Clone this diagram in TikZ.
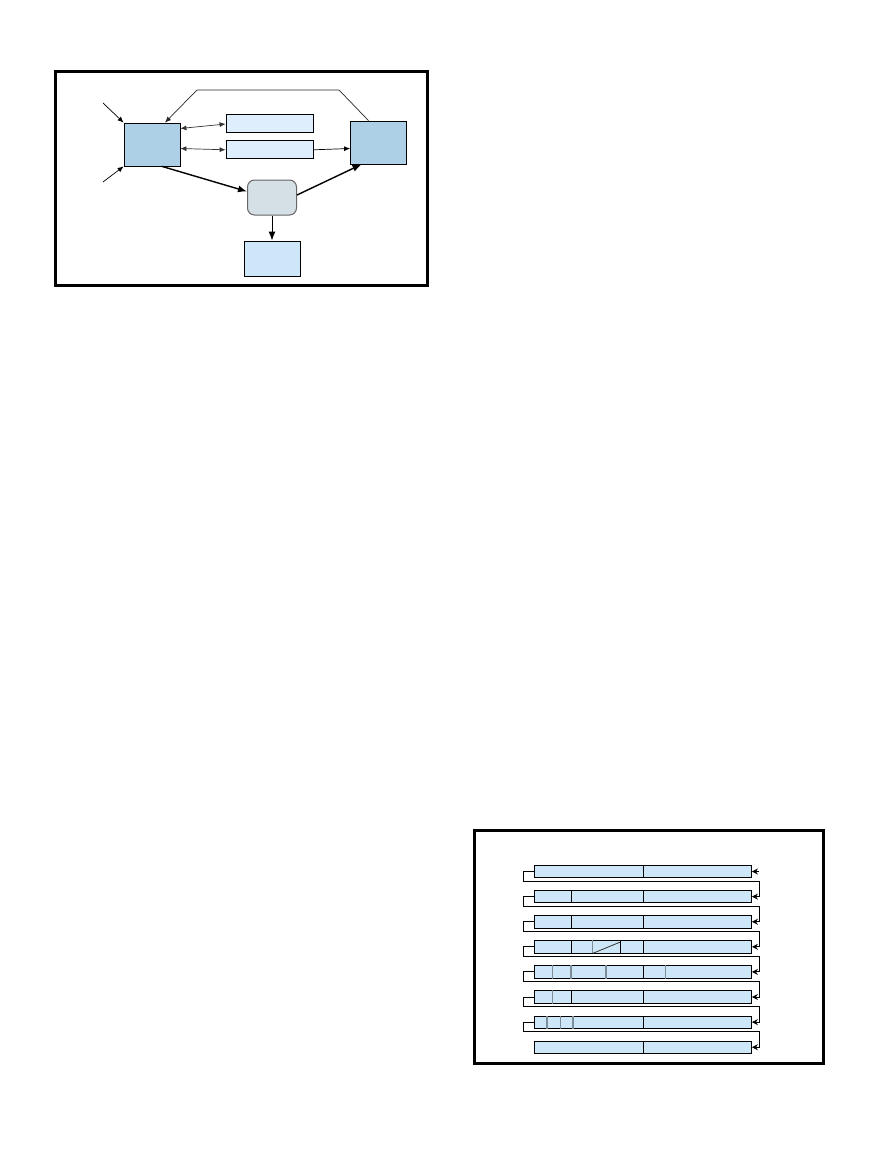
\documentclass[tikz,border=0pt]{standalone}
\usepackage{xcolor}
\usepackage{tikz}
\usetikzlibrary{arrows.meta, positioning}
\definecolor{procblue}{RGB}{174, 208, 230}
\definecolor{regblue}{RGB}{222, 238, 252}
\definecolor{cellblue}{RGB}{205, 231, 248}
\definecolor{bufgray}{RGB}{213, 223, 230}
\definecolor{cutgray}{RGB}{125, 140, 150}
\newcommand{\rowcut}[3][cut]{\draw[#1] (#3,0 |- r#2.north) -- (#3,0 |- r#2.south);}

\begin{document}
\begin{tikzpicture}[
    x=1pt, y=-1pt,
    proc/.style={rectangle, draw=black, fill=procblue, line width=0.8pt, minimum width=56pt, minimum height=43pt, inner sep=0pt},
    reg/.style={rectangle, draw=black, fill=regblue, line width=0.8pt, minimum width=87pt, minimum height=18pt, inner sep=0pt},
    buf/.style={rectangle, rounded corners=7pt, draw=black!60, fill=bufgray, line width=1pt, minimum width=49pt, minimum height=35pt, inner sep=0pt},
    store/.style={rectangle, draw=black, fill=cellblue, line width=0.8pt, minimum width=56pt, minimum height=35.5pt, inner sep=0pt},
    bar/.style={rectangle, draw=black, fill=cellblue, line width=0.8pt, minimum width=217pt, minimum height=12.4pt, inner sep=0pt},
    frame/.style={line width=3pt},
    arrow/.style={-{Latex[length=6pt,width=5pt]}, line width=0.7pt},
    both/.style={{Latex[length=6pt,width=5pt]}-{Latex[length=6pt,width=5pt]}, line width=0.7pt, black!80},
    heavy/.style={-{Latex[length=9pt,width=7pt]}, line width=1.4pt},
    link/.style={-{Stealth[length=6pt,width=6pt]}, line width=0.9pt},
    cut/.style={line width=1pt},
    graycut/.style={line width=1.6pt, cutgray}
]
    \useasboundingbox (0,0) rectangle (878,1175);

    % top diagram
    \draw[frame] (55,71.5) rectangle (427,285);
    \node (src) [proc] at (152,144.5) {};
    \node (dst) [proc] at (378.5,142.5) {};
    \node (reg1) [reg] at (269.5,123) {};
    \node (reg2) [reg, below=8pt of reg1] {};
    \node (buf) [buf] at (272,197.5) {};
    \node (store) [store, below=25pt of buf] {};
    \coordinate (inA) at (103,103);
    \coordinate (inB) at (103,182);
    \coordinate (upR) at (339,90);
    \coordinate (upL) at (197,90);

    \draw [arrow] (inA) -- (src.north west);
    \draw [arrow] (inB) -- (src.south west);
    \draw [arrow, black!85] ([xshift=-10pt]dst.north) -- (upR) -- (upL) -- ([xshift=13pt]src.north);
    \draw [both] ([yshift=16pt]src.east) -- ([yshift=-1pt]reg1.west);
    \draw [both] ([yshift=-4pt]src.east) -- (reg2.west);
    \draw [arrow] (reg2.east) -- ([yshift=-6pt]dst.west);
    \draw [heavy] ([xshift=10pt]src.south) -- ([yshift=6pt]buf.west);
    \draw [heavy] ([yshift=2.5pt]buf.east) -- ([xshift=-17pt]dst.south);
    \draw [heavy, line width=1pt] (buf.south) -- (store.north);

    % bottom diagram
    \draw[frame] (474,830) rectangle (823,1063.3);
    \foreach \i in {1,...,8}
        \node (r\i) [bar] at (643,{871.5+25.1*(\i-1)}) {};
    \foreach \i in {1,...,8}
        \draw[cut] (r\i.north) -- (r\i.south);
    \coordinate (feed) at ([xshift=7pt]r1.east);
    \draw [link] (feed) -- (r1.east);
    \foreach \i [evaluate=\i as \j using int(\i+1)] in {1,...,7}
        \draw [link] (r\i.west) -- ++(-11,0) |- ([xshift=8pt,yshift=-3pt]r\i.south east) |- (r\j.east);

    \rowcut{2}{571.3}
    \rowcut{3}{571.3}
    \rowcut{4}{571.3}
    \rowcut{4}{620.3}
    \rowcut[line width=1pt, cutgray]{4}{592.7}
    \draw[line width=0.8pt, black!80] (592.7,0 |- r4.south) -- (620.3,942);
    \rowcut[graycut]{5}{552.3}
    \rowcut[graycut]{5}{570.7}
    \rowcut[graycut]{5}{606}
    \rowcut[graycut]{5}{665.3}
    \rowcut[graycut]{6}{552.3}
    \rowcut{6}{571.3}
    \rowcut[graycut]{7}{546.7}
    \rowcut[graycut]{7}{560.3}
    \rowcut[graycut]{7}{573}
\end{tikzpicture}
\end{document}
